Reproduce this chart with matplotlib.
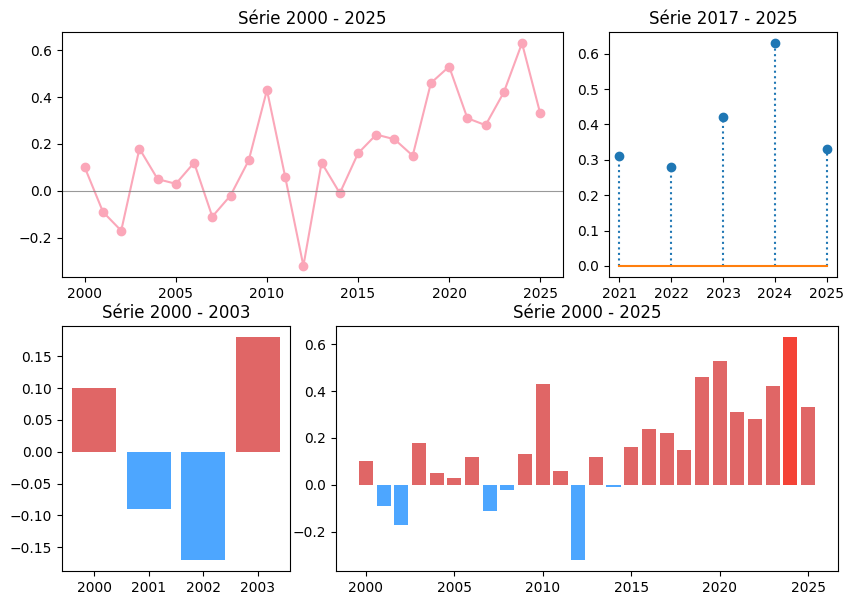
import numpy as np
import matplotlib
matplotlib.use("Agg")
import matplotlib.pyplot as plt

# -------------------------------------------------------------
# Data
# -------------------------------------------------------------
years = list(range(2000, 2026))
values = [0.10, -0.09, -0.17, 0.18, 0.05, 0.03, 0.12, -0.11, -0.02, 0.13,
          0.43, 0.06, -0.32, 0.12, -0.01, 0.16, 0.24, 0.22, 0.15, 0.46,
          0.53, 0.31, 0.28, 0.42, 0.63, 0.33]

stem_years = [2021, 2022, 2023, 2024, 2025]
stem_values = [0.31, 0.28, 0.42, 0.63, 0.33]

first_years = [2000, 2001, 2002, 2003]
first_values = [0.10, -0.09, -0.17, 0.18]

pos_color = '#e06666'
neg_color = '#4da6ff'
max_color = '#f44336'
line_color = '#fba7b9'


def bar_colors(vals, highlight_max=False):
    cols = [pos_color if v >= 0 else neg_color for v in vals]
    if highlight_max:
        cols[int(np.argmax(vals))] = max_color
    return cols


# -------------------------------------------------------------
# Figure
# -------------------------------------------------------------
fig = plt.figure(figsize=(8.54, 6.05), dpi=100)
W, H = 854, 605


def axes_px(x0, x1, y0, y1):
    return fig.add_axes([x0 / W, 1 - y1 / H, (x1 - x0) / W, (y1 - y0) / H])


ax1 = axes_px(62, 563, 32, 277)
ax2 = axes_px(609, 837, 32, 277)
ax3 = axes_px(62, 290, 326, 571)
ax4 = axes_px(336, 838, 326, 571)

# top-left: line
ax1.plot(years, values, marker='o', color=line_color)
ax1.axhline(0, color='gray', linewidth=0.8, alpha=0.8)
ax1.set_title("Série 2000 - 2025")

# top-right: stem
ax2.stem(stem_years, stem_values, linefmt='C0:', markerfmt='C0o', basefmt='C1-')
ax2.set_xticks(stem_years)
ax2.set_title("Série 2017 - 2025")

# bottom-left: bars 2000-2003
ax3.bar(first_years, first_values, color=bar_colors(first_values))
ax3.set_xticks(first_years)
ax3.set_title("Série 2000 - 2003")

# bottom-right: all bars
ax4.bar(years, values, color=bar_colors(values, highlight_max=True))
ax4.set_title("Série 2000 - 2025")

fig.savefig("out.png", dpi=100)
